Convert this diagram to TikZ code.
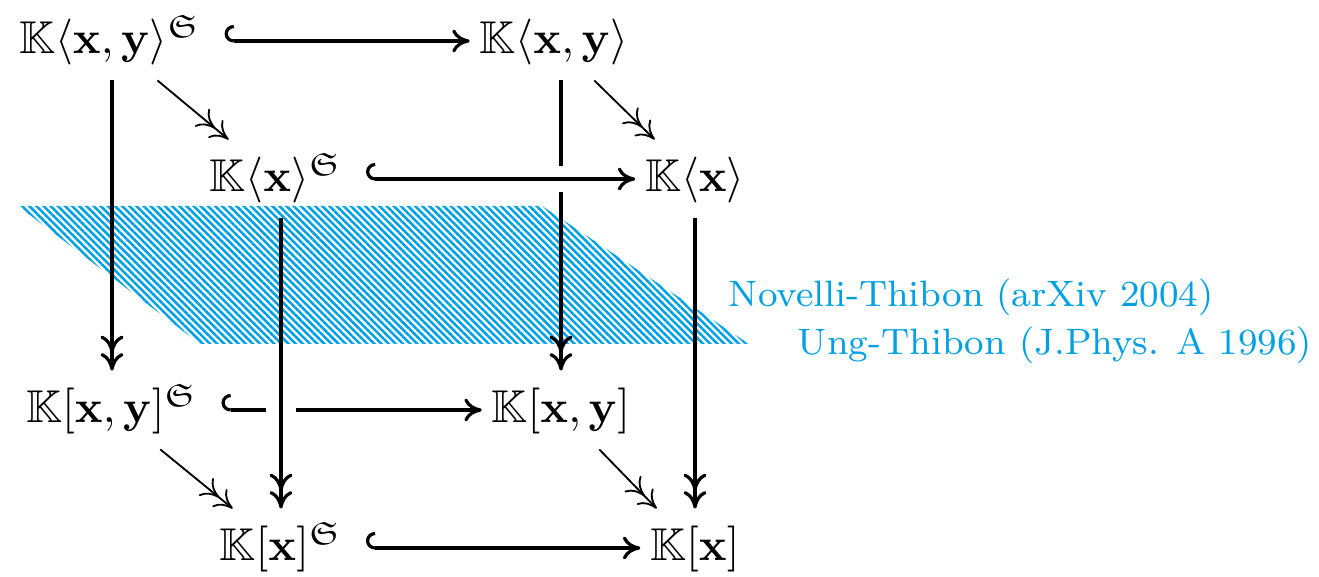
\documentclass[tikz,border=0pt]{standalone}
\usepackage{amsmath,amssymb,amsfonts}
\usepackage{tikz}
\usetikzlibrary{arrows.meta,patterns.meta,calc}
\usepackage{xcolor}
\definecolor{hatchblue}{RGB}{0,160,227}
\newcommand{\K}{\mathbb{K}}
\newcommand{\Sn}{\mathfrak{S}}

\begin{document}
\begin{tikzpicture}[x=0.765cm, y=-0.765cm, >={To[length=3.8pt, width=5pt]},
    alg/.style={inner ysep=3pt, inner xsep=1pt, text height=1.9ex, text depth=0.6ex},
    incl/.style={{Hooks[right, width=7pt, length=2pt]}->, line width=0.7pt, shorten <=4pt, shorten >=1pt},
    proj/.style={->>, line width=0.7pt},
    diagproj/.style={->>, line width=0.4pt},
    gap/.style={fill=white}]
    \useasboundingbox (0,0) rectangle (13.19,5.77);

    % Hatched plane
    \fill[pattern={Lines[angle=-45, distance=1.1pt, line width=0.55pt]}, pattern color=hatchblue]
        (0.18,2.06) -- (5.42,2.06) -- (7.49,3.44) -- (2.00,3.44) -- cycle;

    % Algebras, noncommutative level
    \node[alg] (ncxyS) at (1.10,0.41) {$\K\langle\mathbf{x},\mathbf{y}\rangle^{\Sn}$};
    \node[alg] (ncxy)  at (5.54,0.41) {$\K\langle\mathbf{x},\mathbf{y}\rangle$};
    \node[alg] (ncxS)  at (2.76,1.79) {$\K\langle\mathbf{x}\rangle^{\Sn}$};
    \node[alg] (ncx)   at (6.95,1.79) {$\K\langle\mathbf{x}\rangle$};

    % Algebras, commutative level
    \node[alg] (cxyS) at (1.12,4.10) {$\K[\mathbf{x},\mathbf{y}]^{\Sn}$};
    \node[alg] (cxy)  at (5.61,4.10) {$\K[\mathbf{x},\mathbf{y}]$};
    \node[alg] (cxS)  at (2.81,5.48) {$\K[\mathbf{x}]^{\Sn}$};
    \node[alg] (cx)   at (6.95,5.48) {$\K[\mathbf{x}]$};

    % References
    \node[anchor=base west, inner sep=0pt, font=\footnotesize, text=hatchblue] (novelli)
        at (7.28,3.07) {Novelli-Thibon (arXiv 2004)};
    \node[anchor=base west, inner sep=0pt, font=\footnotesize, text=hatchblue] (ung)
        at (7.97,3.55) {Ung-Thibon (J.Phys. A 1996)};

    % Back face
    \draw[incl] (ncxyS) -- (ncxy);
    \draw[proj] (ncxyS.south -| cxyS.north) -- (cxyS);
    \draw[proj] (ncxy.south -| cxy.north) -- (cxy);
    \draw[incl] (cxyS) -- (cxy);

    % Gaps where the front face passes over
    \coordinate (crossA) at (cxy.north |- ncx.west);
    \coordinate (crossB) at (cxS.north |- cxy.west);
    \fill[gap] ($(crossA)+(-1pt,-2.8pt)$) rectangle ($(crossA)+(1pt,2.8pt)$);
    \fill[gap] ($(crossB)+(-3.3pt,-1pt)$) rectangle ($(crossB)+(3.3pt,1pt)$);

    % Front face
    \draw[incl] (ncxS) -- (ncx);
    \draw[proj] (ncxS.south -| cxS.north) -- (cxS);
    \draw[proj] (ncx) -- (cx);
    \draw[incl] (cxS) -- (cx);

    % Restriction to one alphabet
    \draw[diagproj] (ncxyS) -- (ncxS);
    \draw[diagproj] (ncxy) -- (ncx);
    \draw[diagproj] (cxyS) -- (cxS);
    \draw[diagproj] (cxy) -- (cx);
\end{tikzpicture}
\end{document}
